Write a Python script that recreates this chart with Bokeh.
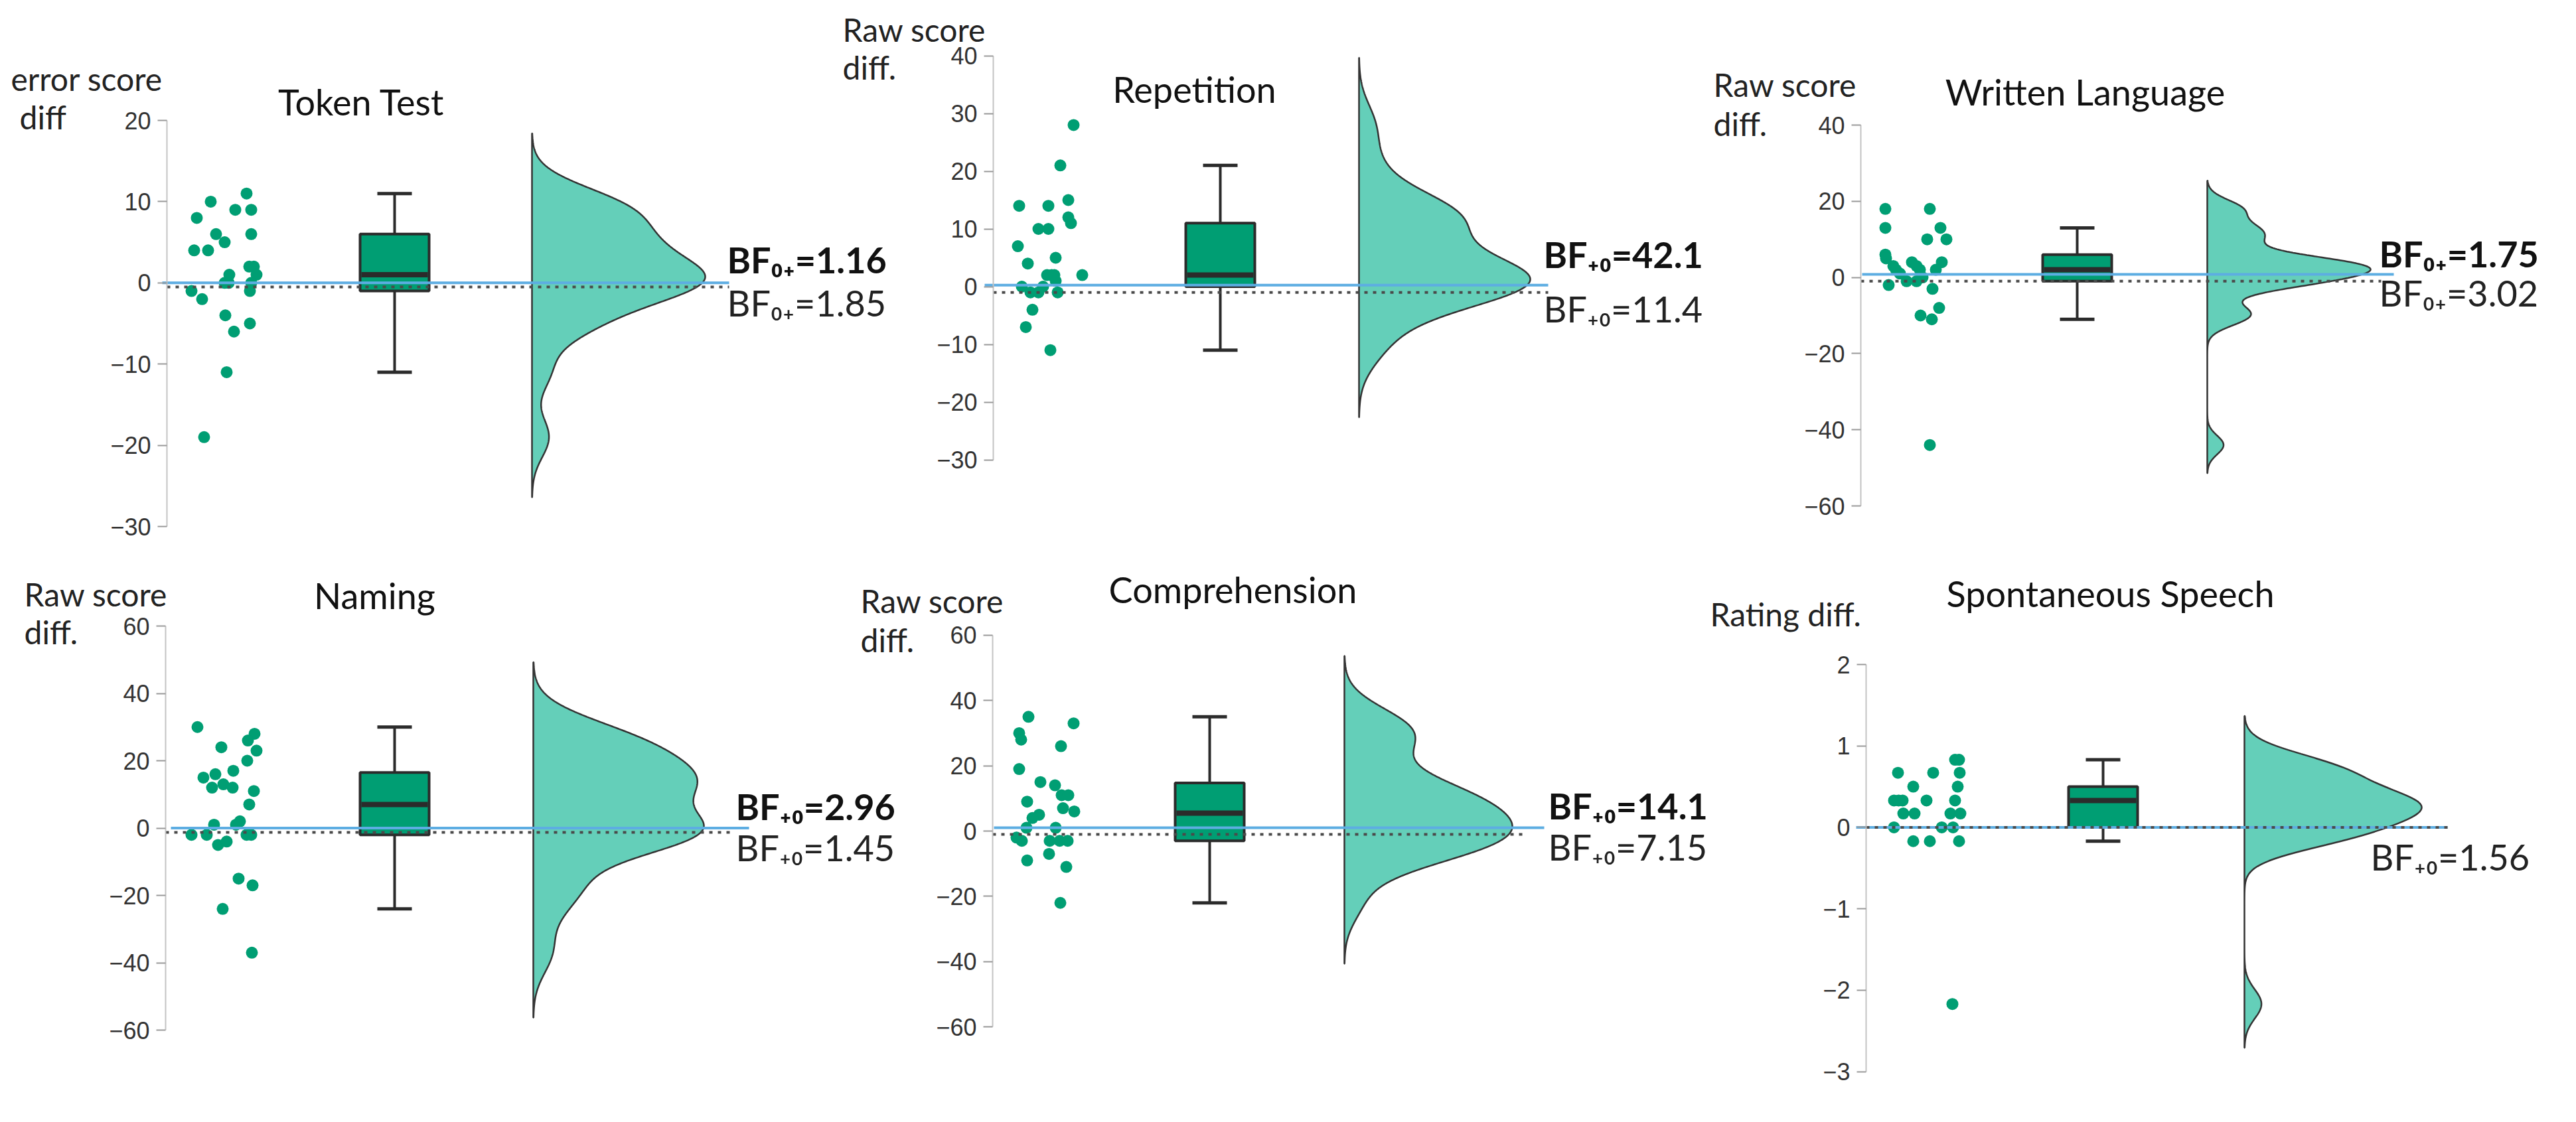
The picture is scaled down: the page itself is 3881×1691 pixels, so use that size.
import numpy as np
from bokeh.plotting import figure
from bokeh.models import Range1d, LinearAxis, FixedTicker
from bokeh.core.properties import value
from bokeh.embed import file_html
from bokeh.resources import INLINE

# ---------------- data ----------------
titles = ["Token Test", "Repetition", "Written Language",
          "Naming", "Comprehension", "Spontaneous Speech"]
y_labels = [["error score", "diff"], ["Raw score", "diff."], ["Raw score", "diff."],
            ["Raw score", "diff."], ["Raw score", "diff."], ["Rating diff."]]

token_test = [10, 11, 8, 9, 9, 6, 6, 4, 4, 5, 1, 2, 2, 1, 0, 0, 0, -1, -2, -1, -4, -6, -5, -11, -19]
token_jit = [-20, 34, -41, 17, 41, -12, 41, -45, -24, 1, 8, 45, 38, 49, 1, 7, 41, -49, -33, 39, 2, 15, 39, 4, -30]

repetition = [28, 21, 15, 14, 14, 12, 11, 10, 10, 7, 5, 4, 2, 2, 2, 2, 1, 0, 0, -1, -1, -1, -4, -7, -11]
repetition_jit = [37, 17, 29, -45, -1, 29, 33, -16, -1, -47, 10, -32, 8, 50, -3, 4, 10, -41, -9, -28, -16, 13, -25, -35, 2]

written = [18, 18, 13, 13, 10, 10, 6, 5, 4, 4, 3, 3, 2, 2, 2, 1, 0, -2, -1, -1, -3, -8, -10, -11, -44]
written_jit = [-46, 21, -46, 37, 17, 46, -46, -45, 39, -6, -34, 1, -30, 6, 30, -24, 10, -41, -14, 1, 25, 35, 7, 24, 21]

naming = [30, 24, 28, 26, 23, 20, 15, 16, 17, 12, 13, 12, 11, 7, 1, 2, 1, -2, -2, -2, -2, -5, -4, -15, -17, -24, -37]
naming_jit = [-40, -4, 46, 36, 49, 35, -31, -13, 14, -18, -1, 13, 45, 38, -15, 24, 18, -49, -26, 34, 41, -9, 4, 22, 43, -2, 42]

comprehension = [35, 33, 30, 28, 26, 19, 15, 14, 11, 11, 9, 7, 6, 5, 4, 1, 1, -2, -3, -3, -3, -3, -7, -9, -11, -22]
comprehension_jit = [-26, 42, -40, -37, 23, -40, -8, 14, 24, 34, -28, 26, 43, -10, -20, -29, 15, -44, -36, 6, 21, 33, 5, -28, 31, 22]

spontaneous = [0.83, 0.83, 0.67, 0.67, 0.67, 0.5, 0.5, 0.33, 0.33, 0.33, 0.33, 0.33,
               0.17, 0.17, 0.17, 0.17, 0, 0, 0, -0.17, -0.17, -0.17, -2.17]
spontaneous_jit = [42, 48, -44, 9, 49, -21, 46, -50, -37, -1, 42, -43,
                   -36, -19, 35, 50, -50, 22, 39, -21, 4, 48, 38]

series = [token_test, repetition, written, naming, comprehension, spontaneous]
jitters = [token_jit, repetition_jit, written_jit, naming_jit, comprehension_jit, spontaneous_jit]

bf_bold = ["BF\u2080\u208A=1.16", "BF\u208A\u2080=42.1", "BF\u2080\u208A=1.75",
           "BF\u208A\u2080=2.96", "BF\u208A\u2080=14.1", None]
bf_plain = ["BF\u2080\u208A=1.85", "BF\u208A\u2080=11.4", "BF\u2080\u208A=3.02",
            "BF\u208A\u2080=1.45", "BF\u208A\u2080=7.15", "BF\u208A\u2080=1.56"]

axis_ticks = [[-30, -20, -10, 0, 10, 20],
              [-30, -20, -10, 0, 10, 20, 30, 40],
              [-60, -40, -20, 0, 20, 40],
              [-60, -40, -20, 0, 20, 40, 60],
              [-60, -40, -20, 0, 20, 40, 60],
              [-3, -2, -1, 0, 1, 2]]
blue_level = [0.0, 0.26, 0.8, 0.0, 1.0, 0.0]
dotted_level = [-0.5, -1.0, -1.0, -1.3, -1.0, 0.0]

# ---------------- layout (page pixels) ----------------
W, H = 3864, 1674
layout = [
    dict(axis_x=259, rain_x=345, box_x=602, cloud_x=809, cloud_w=261, zero=433.8, ppu=12.24,
         line_x0=252, line_x1=1106, dot_x1=1106, bf_x=1103, bf_dy=(-35, 30),
         title_xy=(552, 161), ylab_xy=[(24, 126), (37, 184)]),
    dict(axis_x=1504, rain_x=1588, box_x=1846, cloud_x=2055, cloud_w=258, zero=439.5, ppu=8.70,
         line_x0=1491, line_x1=2340, dot_x1=2340, bf_x=2333, bf_dy=(-49, 33),
         title_xy=(1807, 142), ylab_xy=[(1277, 52), (1277, 109)]),
    dict(axis_x=2811, rain_x=2894, box_x=3137, cloud_x=3333, cloud_w=246, zero=425.6, ppu=5.74,
         line_x0=2813, line_x1=3614, dot_x1=3595, bf_x=3592, bf_dy=(-36, 23),
         title_xy=(3149, 146), ylab_xy=[(2589, 135), (2589, 194)]),
    dict(axis_x=257, rain_x=345, box_x=602, cloud_x=811, cloud_w=257, zero=1255.5, ppu=5.075,
         line_x0=265, line_x1=1136, dot_x1=1112, bf_x=1116, bf_dy=(-33, 29),
         title_xy=(572, 905), ylab_xy=[(44, 903), (44, 960)]),
    dict(axis_x=1503, rain_x=1583, box_x=1830, cloud_x=2033, cloud_w=253, zero=1260.0, ppu=4.92,
         line_x0=1505, line_x1=2334, dot_x1=2306, bf_x=2340, bf_dy=(-38, 24),
         title_xy=(1865, 896), ylab_xy=[(1304, 913), (1304, 972)]),
    dict(axis_x=2819, rain_x=2911, box_x=3176, cloud_x=3389, cloud_w=267, zero=1254.4, ppu=122.7,
         line_x0=2804, line_x1=3695, dot_x1=3695, bf_x=3579, bf_dy=(None, 45),
         title_xy=(3187, 902), ylab_xy=[(2584, 933)]),
]

GREEN = "#009E73"
CLOUD = "#64CFB9"
DARK = "#2b2b2b"
BLUE = "#5DADE2"
FONT = "Lato"

p = figure(width=W, height=H, x_range=Range1d(8, 8 + W), y_range=Range1d(8 + H, 8),
           x_axis_type=None, y_axis_type=None, toolbar_location=None,
           output_backend="svg", min_border=0, min_border_left=0, min_border_right=0,
           min_border_top=0, min_border_bottom=0)
p.outline_line_color = None
p.background_fill_color = "white"
p.border_fill_color = "white"


def kde(v):
    v = np.asarray(v, float)
    n = len(v)
    q1, q3 = np.percentile(v, [25, 75])
    bw = 0.9 * min(v.std(ddof=1), (q3 - q1) / 1.34) * n ** -0.2
    grid = np.linspace(v.min() - 3 * bw, v.max() + 3 * bw, 500)
    d = np.exp(-0.5 * ((grid[:, None] - v[None, :]) / bw) ** 2).sum(axis=1)
    return grid, d / d.max()


for i, (vals, jit, L) in enumerate(zip(series, jitters, layout)):
    rn = f"p{i}"
    v = np.asarray(vals, float)
    p.extra_y_ranges[rn] = Range1d(start=(L["zero"] - 8 - H) / L["ppu"],
                                   end=(L["zero"] - 8) / L["ppu"])

    ax = LinearAxis(y_range_name=rn, fixed_location=L["axis_x"],
                    bounds=(min(axis_ticks[i]), max(axis_ticks[i])),
                    ticker=FixedTicker(ticks=axis_ticks[i]))
    ax.axis_line_color = "#c4c4c4"
    ax.axis_line_width = 2
    ax.major_tick_line_color = "#9a9a9a"
    ax.major_tick_line_width = 2
    ax.major_tick_out = 14
    ax.major_tick_in = 0
    ax.minor_tick_line_color = None
    ax.major_label_standoff = 10
    ax.major_label_text_font = "Liberation Sans"
    ax.major_label_text_font_size = "36px"
    ax.major_label_text_color = "#333333"
    p.add_layout(ax, "left")

    # rain (points)
    xs = [L["rain_x"] + j for j in jit]
    p.scatter(x=xs, y=list(v), size=18, fill_color=GREEN, line_color=None, y_range_name=rn)

    # box plot stats
    q1, med, q3 = np.percentile(v, [25, 50, 75])
    iqr = q3 - q1
    lo = v[v >= q1 - 1.5 * iqr].min()
    hi = v[v <= q3 + 1.5 * iqr].max()
    bx = L["box_x"]
    p.segment(x0=[bx, bx], y0=[q3, q1], x1=[bx, bx], y1=[hi, lo],
              line_color=DARK, line_width=4, y_range_name=rn)
    p.segment(x0=[bx - 26, bx - 26], y0=[hi, lo], x1=[bx + 26, bx + 26], y1=[hi, lo],
              line_color=DARK, line_width=5, y_range_name=rn)
    p.quad(left=[bx - 52], right=[bx + 52], bottom=[q1], top=[q3],
           fill_color=GREEN, line_color=DARK, line_width=4, y_range_name=rn)
    p.segment(x0=[bx - 50], y0=[med], x1=[bx + 50], y1=[med],
              line_color=DARK, line_width=8, y_range_name=rn)

    # cloud (half violin)
    grid, dens = kde(v)
    cx = [L["cloud_x"]] + list(L["cloud_x"] + dens * L["cloud_w"]) + [L["cloud_x"]]
    cy = [grid[0]] + list(grid) + [grid[-1]]
    p.patch(x=cx, y=cy, fill_color=CLOUD, line_color="#333333", line_width=2.5,
            y_range_name=rn)

    # reference lines
    p.segment(x0=[L["line_x0"]], y0=[blue_level[i]], x1=[L["line_x1"]], y1=[blue_level[i]],
              line_color=BLUE, line_width=4, y_range_name=rn)
    p.segment(x0=[L["axis_x"]], y0=[dotted_level[i]], x1=[L["dot_x1"]], y1=[dotted_level[i]],
              line_color="#4a4a4a", line_width=4, line_dash="5 8", y_range_name=rn)

    # Bayes factor texts
    dy_b, dy_p = L["bf_dy"]
    if bf_bold[i] is not None:
        p.text(x=[L["bf_x"]], y=[0], text=[bf_bold[i]], y_offset=dy_b,
               text_font=value(FONT), text_font_size="54px", text_font_style="bold",
               text_color="#111111", text_baseline="middle", text_align="left",
               y_range_name=rn)
    p.text(x=[L["bf_x"]], y=[0], text=[bf_plain[i]], y_offset=dy_p,
           text_font=value(FONT), text_font_size="54px",
           text_color="#222222", text_baseline="middle", text_align="left",
           y_range_name=rn)

    # title and y label
    tx, ty = L["title_xy"]
    p.text(x=[tx], y=[ty], text=[titles[i]], text_font=value(FONT), text_font_size="54px",
           text_color="#111111", text_align="center", text_baseline="middle")
    for (lx, ly), lab in zip(L["ylab_xy"], y_labels[i]):
        p.text(x=[lx], y=[ly], text=[lab], text_font=value(FONT), text_font_size="48px",
               text_color="#222222", text_align="left", text_baseline="middle")

open("out.html", "w").write(file_html(p, INLINE))
